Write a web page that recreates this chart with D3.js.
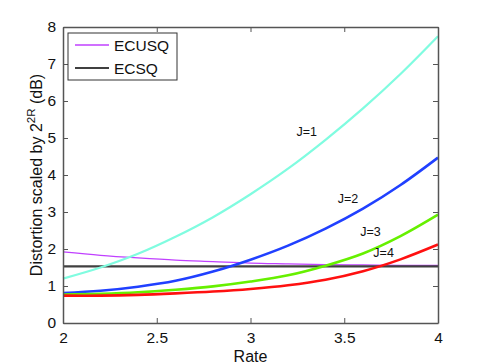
<!DOCTYPE html>
<html>
<head>
<meta charset="utf-8">
<script src="https://cdn.jsdelivr.net/npm/d3@7"></script>
<style>
	body { margin: 0; background: #fff; }
	svg { font-family: "Liberation Sans", Arial, sans-serif; }
</style>
</head>
<body>
<div id="chart"></div>
<script>
// data
var rates = [2.0, 2.2, 2.4, 2.6, 2.8, 3.0, 3.2, 3.4, 3.6, 3.8, 4.0];
var j1 = [1.20, 1.50, 1.87, 2.33, 2.86, 3.48, 4.17, 4.95, 5.80, 6.73, 7.75];
var j2 = [0.81, 0.87, 0.98, 1.14, 1.39, 1.71, 2.09, 2.55, 3.09, 3.73, 4.47];
var j3 = [0.77, 0.79, 0.83, 0.90, 0.99, 1.12, 1.29, 1.55, 1.88, 2.35, 2.93];
var j4 = [0.74, 0.74, 0.76, 0.80, 0.85, 0.92, 1.02, 1.17, 1.40, 1.72, 2.12];
var ecusq = [1.92, 1.83, 1.76, 1.70, 1.66, 1.62, 1.60, 1.58, 1.57, 1.56, 1.56];
var ecsq = [1.53, 1.53, 1.53, 1.53, 1.53, 1.53, 1.53, 1.53, 1.53, 1.53, 1.53];
var xTicks = [2, 2.5, 3, 3.5, 4];
var yTicks = [0, 1, 2, 3, 4, 5, 6, 7, 8];
var curveLabels = ['J=1', 'J=2', 'J=3', 'J=4'];
var labelPos = [[3.30, 5.05], [3.52, 3.24], [3.64, 2.35], [3.71, 1.78]]; // [rate, dB]

var width = 485;
var height = 364;
var margin = {top: 27, right: 47, bottom: 41, left: 63};
var w = width - margin.left - margin.right;
var h = height - margin.top - margin.bottom;
var axisColor = '#555';

var svg = d3.select('#chart')
	.append('svg')
	.attr('width', width)
	.attr('height', height);

var g = svg.append('g')
	.attr('transform', 'translate(' + margin.left + ',' + margin.top + ')');

var x = d3.scaleLinear().domain([2, 4]).range([0, w]);
var y = d3.scaleLinear().domain([0, 8]).range([h, 0]);

// box
g.append('rect')
	.attr('width', w)
	.attr('height', h)
	.attr('fill', '#fff');

// curves
var series = [
	{vals: ecusq, color: '#c040ff', width: 1.3},
	{vals: ecsq, color: '#404040', width: 2.2},
	{vals: j1, color: '#80fce0', width: 2.2},
	{vals: j2, color: '#2040ff', width: 2.6},
	{vals: j3, color: '#66f000', width: 2.6},
	{vals: j4, color: '#ff1010', width: 2.6}
];

var line = d3.line()
	.x(function(d){ return x(d[0]); })
	.y(function(d){ return y(d[1]); })
	.curve(d3.curveCatmullRom.alpha(0.5));

g.selectAll('.series')
	.data(series)
	.enter()
	.append('path')
	.attr('class', 'series')
	.attr('fill', 'none')
	.attr('stroke', function(d){ return d.color; })
	.attr('stroke-width', function(d){ return d.width; })
	.attr('d', function(d){
		return line(rates.map(function(r, i){ return [r, d.vals[i]]; }));
	});

// J labels
g.selectAll('.jlabel')
	.data(curveLabels)
	.enter()
	.append('text')
	.attr('class', 'jlabel')
	.attr('x', function(d, i){ return x(labelPos[i][0]); })
	.attr('y', function(d, i){ return y(labelPos[i][1]); })
	.attr('text-anchor', 'middle')
	.attr('font-size', 12.5)
	.attr('fill', '#111')
	.text(function(d){ return d; });

// axes, ticks inside on all four sides
var axBottom = g.append('g')
	.attr('transform', 'translate(0,' + h + ')')
	.call(d3.axisBottom(x).tickValues(xTicks).tickSizeInner(-5).tickSizeOuter(0).tickPadding(9).tickFormat(d3.format('')));
var axLeft = g.append('g')
	.call(d3.axisLeft(y).tickValues(yTicks).tickSizeInner(-5).tickSizeOuter(0).tickPadding(7));
var axTop = g.append('g')
	.call(d3.axisTop(x).tickValues(xTicks).tickSizeInner(-5).tickSizeOuter(0).tickFormat(''));
var axRight = g.append('g')
	.attr('transform', 'translate(' + w + ',0)')
	.call(d3.axisRight(y).tickValues(yTicks).tickSizeInner(-5).tickSizeOuter(0).tickFormat(''));

[axBottom, axLeft, axTop, axRight].forEach(function(a){
	a.select('.domain').attr('stroke', axisColor).attr('stroke-width', 1.5);
	a.selectAll('.tick line').attr('stroke', axisColor);
	a.selectAll('.tick text')
		.attr('font-size', 15.5)
		.attr('fill', '#111')
		.attr('font-family', '"Liberation Sans", Arial, sans-serif');
});

// axis titles
svg.append('text')
	.attr('x', margin.left + w / 2)
	.attr('y', 362)
	.attr('text-anchor', 'middle')
	.attr('font-size', 16)
	.attr('fill', '#111')
	.text('Rate');

var ylab = svg.append('text')
	.attr('transform', 'translate(42,' + (margin.top + h / 2) + ') rotate(-90)')
	.attr('text-anchor', 'middle')
	.attr('font-size', 16)
	.attr('fill', '#111');
ylab.append('tspan').text('Distortion scaled by 2');
ylab.append('tspan').attr('font-size', 11.5).attr('dy', -7).text('2R');
ylab.append('tspan').attr('dy', 7).text(' (dB)');

// legend
var legendData = [
	{label: 'ECUSQ', color: '#c040ff', width: 1.3},
	{label: 'ECSQ', color: '#000', width: 1.3}
];
var legend = svg.append('g')
	.attr('transform', 'translate(68,33)');
legend.append('rect')
	.attr('width', 109)
	.attr('height', 47)
	.attr('fill', '#fff')
	.attr('stroke', '#333')
	.attr('stroke-width', 1);
var item = legend.selectAll('.item')
	.data(legendData)
	.enter()
	.append('g')
	.attr('class', 'item')
	.attr('transform', function(d, i){ return 'translate(0,' + (12 + i * 23) + ')'; });
item.append('line')
	.attr('x1', 7)
	.attr('x2', 41)
	.attr('stroke', function(d){ return d.color; })
	.attr('stroke-width', function(d){ return d.width; });
item.append('text')
	.attr('x', 46)
	.attr('y', 6)
	.attr('font-size', 15.5)
	.attr('fill', '#111')
	.text(function(d){ return d.label; });
</script>
</body>
</html>
